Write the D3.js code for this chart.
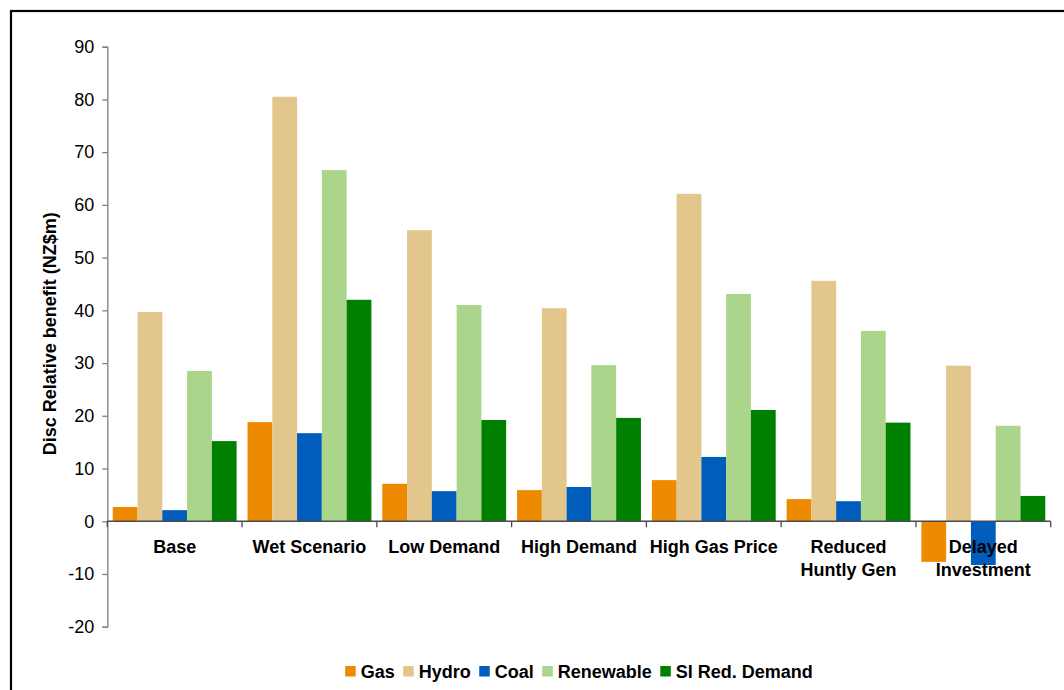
<!DOCTYPE html>
<html>
<head>
<meta charset="utf-8">
<script src="https://cdn.jsdelivr.net/npm/d3@7"></script>
<style>
  html, body { margin: 0; padding: 0; background: #fff; }
  svg { display: block; font-family: "Liberation Sans", Arial, sans-serif; }
</style>
</head>
<body>
<svg id="chart" width="1064" height="690"></svg>
<script>
// Scenario categories along the x axis
const categories = ["Base", "Wet Scenario", "Low Demand", "High Demand",
                    "High Gas Price", "Reduced Huntly Gen", "Delayed Investment"];

// Series names (legend order)
const seriesNames = ["Gas", "Hydro", "Coal", "Renewable", "SI Red. Demand"];

// Discounted relative benefit per series, NZ$m, one value per scenario
const gas       = [2.7, 18.8, 7.1, 5.9, 7.8, 4.2, -7.7];
const hydro     = [39.7, 80.5, 55.2, 40.4, 62.1, 45.6, 29.5];
const coal      = [2.1, 16.7, 5.7, 6.5, 12.2, 3.8, -8.3];
const renewable = [28.5, 66.6, 41.0, 29.6, 43.1, 36.1, 18.1];
const siRedDem  = [15.2, 42.0, 19.2, 19.6, 21.1, 18.7, 4.8];

// Y axis tick values
const yTicks = [-20, -10, 0, 10, 20, 30, 40, 50, 60, 70, 80, 90];

const seriesValues = [gas, hydro, coal, renewable, siRedDem];
const colors = ["#EE8A00", "#E2C68C", "#005DBB", "#AAD58B", "#008000"];

const FONT = 18;
const svg = d3.select("#chart");

// Outer chart frame
svg.append("rect")
  .attr("x", 11).attr("y", 11)
  .attr("width", 1080).attr("height", 700)
  .attr("fill", "none").attr("stroke", "#000").attr("stroke-width", 2.2);

const plotLeft = 107.3, plotRight = 1050.7, plotTop = 46.7, plotBottom = 626.7;

const y = d3.scaleLinear().domain([-20, 90]).range([plotBottom, plotTop]);
const x0 = d3.scaleBand().domain(categories).range([plotLeft, plotRight]).paddingInner(0).paddingOuter(0);
const x1 = d3.scaleBand().domain(seriesNames).range([0, x0.bandwidth()])
  .paddingInner(0).paddingOuter(0.22);
const color = d3.scaleOrdinal().domain(seriesNames).range(colors);

// Flattened records for the bars
const records = [];
categories.forEach((c, ci) => {
  seriesNames.forEach((s, si) => {
    records.push({ category: c, series: s, value: seriesValues[si][ci] });
  });
});

// Bars
svg.append("g").selectAll("rect")
  .data(records)
  .join("rect")
  .attr("x", d => x0(d.category) + x1(d.series))
  .attr("y", d => y(Math.max(0, d.value)))
  .attr("width", x1.bandwidth())
  .attr("height", d => Math.abs(y(d.value) - y(0)))
  .attr("fill", d => color(d.series));

// Y axis (plain hyphen for negative numbers)
const yAxis = d3.axisLeft(y).tickValues(yTicks).tickSize(5).tickPadding(8)
  .tickFormat(d => String(d));
const gy = svg.append("g").attr("transform", `translate(${plotLeft},0)`).call(yAxis);
gy.select(".domain").attr("stroke", "#7f7f7f").attr("stroke-width", 1.3);
gy.selectAll(".tick line").attr("stroke", "#7f7f7f").attr("stroke-width", 1.3);
gy.selectAll(".tick text")
  .attr("font-size", FONT).attr("fill", "#000")
  .attr("font-family", "'Liberation Sans', Arial, sans-serif");

// Category axis on the zero line, with ticks at the category boundaries
const zeroY = y(0);
svg.append("line")
  .attr("x1", plotLeft).attr("x2", plotRight)
  .attr("y1", zeroY).attr("y2", zeroY)
  .attr("stroke", "#4a4a4a").attr("stroke-width", 1.6);
const boundaries = categories.map(c => x0(c)).concat([plotRight]);
svg.append("g").selectAll("line")
  .data(boundaries)
  .join("line")
  .attr("x1", d => d).attr("x2", d => d)
  .attr("y1", zeroY).attr("y2", zeroY + 6)
  .attr("stroke", "#4a4a4a").attr("stroke-width", 1.3);

// Category labels, wrapped to the category width
function wrapWords(text, maxWidth, measure) {
  const words = text.split(" ");
  const lines = [];
  let line = "";
  words.forEach(w => {
    const trial = line ? line + " " + w : w;
    if (line && measure(trial) > maxWidth) {
      lines.push(line);
      line = w;
    } else {
      line = trial;
    }
  });
  if (line) lines.push(line);
  return lines;
}

const measurer = svg.append("text")
  .attr("font-size", FONT).attr("font-weight", "bold").attr("visibility", "hidden");
const measure = t => { measurer.text(t); return measurer.node().getComputedTextLength(); };

const labelG = svg.append("g");
categories.forEach(c => {
  const lines = wrapWords(c, 130, measure);
  const cx = x0(c) + x0.bandwidth() / 2;
  const t = labelG.append("text")
    .attr("text-anchor", "middle")
    .attr("font-size", FONT).attr("font-weight", "bold").attr("fill", "#000");
  lines.forEach((ln, i) => {
    t.append("tspan")
      .attr("x", cx)
      .attr("y", 553 + i * 23)
      .text(ln);
  });
});
measurer.remove();

// Y axis title
svg.append("text")
  .attr("transform", `translate(56,${(plotTop + plotBottom) / 2 - 3}) rotate(-90)`)
  .attr("text-anchor", "middle")
  .attr("font-size", FONT).attr("font-weight", "bold").attr("fill", "#000")
  .text("Disc Relative benefit (NZ$m)");

// Legend, centred under the plot
const legend = svg.append("g");
let cursor = 0;
seriesNames.forEach(s => {
  const item = legend.append("g").attr("transform", `translate(${cursor},0)`);
  item.append("rect")
    .attr("x", 0).attr("y", -5).attr("width", 10.5).attr("height", 10.5)
    .attr("fill", color(s));
  const txt = item.append("text")
    .attr("x", 15.5).attr("y", 6.5)
    .attr("font-size", FONT).attr("font-weight", "bold").attr("fill", "#000")
    .text(s);
  cursor += 15.5 + txt.node().getComputedTextLength() + 8.5;
});
const legendWidth = cursor - 8.5;
legend.attr("transform", `translate(${(plotLeft + plotRight) / 2 - legendWidth / 2},671)`);
</script>
</body>
</html>
